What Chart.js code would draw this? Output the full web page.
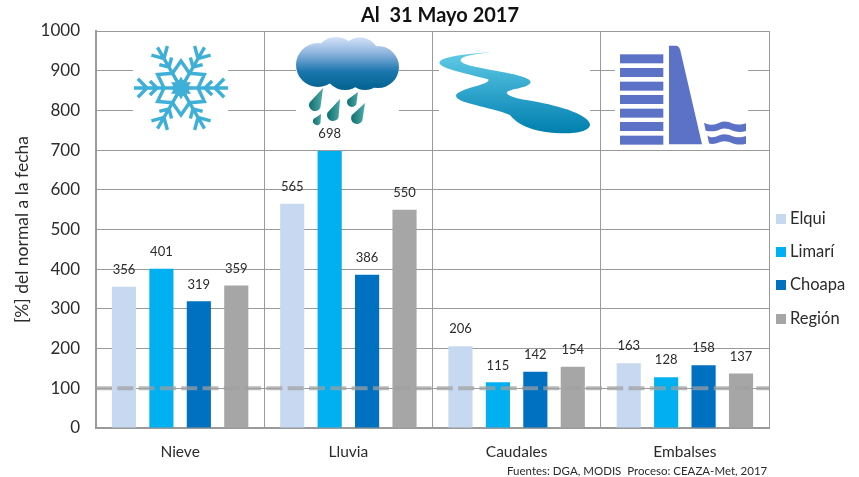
<!DOCTYPE html>
<html><head><meta charset="utf-8">
<style>html,body{margin:0;padding:0;background:#fff}canvas{display:block}</style>
<script src="https://cdn.jsdelivr.net/npm/chart.js@4"></script>
</head><body><canvas id="c" width="859" height="477"></canvas>
<script>
const categories = ['Nieve','Lluvia','Caudales','Embalses'];
const elqui  = [356,565,206,163];
const limari = [401,698,115,128];
const choapa = [319,386,142,158];
const region = [359,550,154,137];
const normalRef = 100;
const yTicks = [0,100,200,300,400,500,600,700,800,900,1000];
const FONT = 'Lato, Carlito, "Open Sans", sans-serif';
const TXT = '#2b2b2b';

function snowflake(ctx,cx,cy){
  const col='#3EAFD7';
  ctx.save();ctx.translate(cx,cy);ctx.strokeStyle=col;ctx.fillStyle=col;ctx.lineWidth=3.4;ctx.lineCap='butt';
  for(let i=0;i<6;i++){
    ctx.save();ctx.rotate(i*Math.PI/3);
    ctx.beginPath();ctx.moveTo(8,0);ctx.lineTo(47,0);
    [[34,13],[24,10]].forEach(([r,l])=>{
      const d=l*Math.SQRT1_2;
      ctx.moveTo(r,0);ctx.lineTo(r+d,-d);ctx.moveTo(r,0);ctx.lineTo(r+d,d);
    });
    ctx.stroke();ctx.restore();
  }
  ctx.lineWidth=3.4;ctx.beginPath();
  for(let i=0;i<12;i++){
    const r=i%2?17:27,a=(i*Math.PI/6)+Math.PI/6;
    ctx[i?'lineTo':'moveTo'](r*Math.cos(a),r*Math.sin(a));
  }
  ctx.closePath();ctx.stroke();
  ctx.beginPath();
  for(let i=0;i<24;i++){
    const r=i%2?8:11.5,a=i*Math.PI/12;
    ctx[i?'lineTo':'moveTo'](r*Math.cos(a),r*Math.sin(a));
  }
  ctx.closePath();ctx.fill();ctx.restore();
}
function cloud(ctx){
  const g=ctx.createLinearGradient(0,37,0,90);
  g.addColorStop(0,'#D3E3F8');g.addColorStop(.3,'#8FB4DE');g.addColorStop(.65,'#1B76AE');g.addColorStop(1,'#02628F');
  ctx.fillStyle=g;
  ctx.beginPath();
  [[318,65,22],[336,58,21],[360,57,19.5],[378,67,21],[345,69,21],[365,72,18]].forEach(([x,y,r])=>{ctx.moveTo(x+r,y);ctx.arc(x,y,r,0,Math.PI*2);});
  ctx.fill();
  [[323,88,315,105,6],[340,99,333,115,6],[358,92,352,102,5],[365,103,357,118,6],[321,114,317,121,4]].forEach(([tx,ty,bx,by,r])=>{
    const d=ctx.createLinearGradient(bx-r,0,bx+r,0);d.addColorStop(0,'#0F6E70');d.addColorStop(1,'#47A3A0');
    ctx.fillStyle=d;
    const a=Math.atan2(ty-by,tx-bx);
    ctx.beginPath();ctx.moveTo(tx,ty);ctx.lineTo(bx+r*Math.cos(a-1.57),by+r*Math.sin(a-1.57));
    ctx.arc(bx,by,r,a-1.57,a+1.57,true);ctx.closePath();ctx.fill();
  });
}
function river(ctx){
  const X=x=>430+x/3,Y=y=>20+y/3;
  const g=ctx.createLinearGradient(0,52,0,133);
  g.addColorStop(0,'#62CCE6');g.addColorStop(.5,'#2FA4CC');g.addColorStop(1,'#007FAE');
  ctx.fillStyle=g;ctx.beginPath();ctx.moveTo(X(185),Y(97));
  const c=[[120,100,30,110,28,128],[30,145,110,160,175,178],[185,195,80,205,78,228],[80,250,180,260,240,285],[270,325,340,340,400,340],[450,340,482,330,480,312],[470,280,380,255,290,240],[260,235,232,228,230,218],[235,205,300,205,302,185],[295,165,200,155,125,138],[100,132,85,125,95,115],[110,105,150,100,185,97]];
  c.forEach(p=>ctx.bezierCurveTo(X(p[0]),Y(p[1]),X(p[2]),Y(p[3]),X(p[4]),Y(p[5])));
  ctx.closePath();ctx.fill();
}
function dam(ctx){
  const X=x=>430+x/3,Y=y=>20+y/3;
  ctx.fillStyle='#5B72C6';
  [103,144,185,225,266,306,347].forEach(y=>ctx.fillRect(X(570),Y(y),130/3,27/3));
  ctx.beginPath();ctx.moveTo(X(717),Y(373));ctx.lineTo(X(717),Y(77));ctx.lineTo(X(738),Y(77));
  ctx.quadraticCurveTo(X(750),Y(78),X(753),Y(100));ctx.lineTo(X(816),Y(373));ctx.closePath();ctx.fill();
  [[822,308],[832,346]].forEach(([x,t])=>{
    const top=[[862,t+6,885,t-6],[905,t-4,925,t+4],[938,t+6,948,t+2]];
    ctx.beginPath();ctx.moveTo(X(x),Y(t));
    ctx.bezierCurveTo(X(842),Y(t+10),X(855),Y(t+6),X(868),Y(t));
    ctx.bezierCurveTo(X(880),Y(t-6),X(895),Y(t-4),X(905),Y(t+2));
    ctx.bezierCurveTo(X(920),Y(t+8),X(935),Y(t+6),X(948),Y(t+2));
    ctx.lineTo(X(948),Y(t+25));
    ctx.bezierCurveTo(X(935),Y(t+29),X(920),Y(t+29),X(905),Y(t+23));
    ctx.bezierCurveTo(X(895),Y(t+17),X(880),Y(t+15),X(868),Y(t+21));
    ctx.bezierCurveTo(X(855),Y(t+27),X(842),Y(t+27),X(x+5),Y(t+24));
    ctx.closePath();ctx.fill();
  });
}

const decor = {
  id:'decor',
  beforeDraw(chart){ chart.titleBlock.left=112; chart.titleBlock.right=768; },
  beforeDatasetsDraw(chart){
    const ctx=chart.ctx;ctx.save();ctx.fillStyle='#fff';
    [[133,95],[296,103],[439,151],[615,133]].forEach(([x,w])=>ctx.fillRect(x,40,w,85));
    snowflake(ctx,181,88);cloud(ctx);river(ctx);dam(ctx);
    ctx.restore();
  },
  afterDatasetsDraw(chart){
    const ctx=chart.ctx,a=chart.chartArea,yy=chart.scales.y.getPixelForValue(normalRef);
    ctx.save();
    ctx.strokeStyle='rgba(160,160,160,.72)';ctx.lineWidth=4;ctx.setLineDash([16,5.3]);
    ctx.beginPath();ctx.moveTo(a.left,yy);ctx.lineTo(a.right,yy);ctx.stroke();ctx.setLineDash([]);
    ctx.font='13px '+FONT;ctx.fillStyle=TXT;ctx.textAlign='center';ctx.textBaseline='middle';
    chart.data.datasets.forEach((ds,i)=>{
      chart.getDatasetMeta(i).data.forEach((el,j)=>ctx.fillText(ds.data[j],el.x,el.y-17));
    });
    const ys=[219,252,285,319];
    ctx.textAlign='left';ctx.font='16.5px '+FONT;
    chart.data.datasets.forEach((ds,k)=>{
      ctx.fillStyle=ds.backgroundColor;ctx.fillRect(776,ys[k]-5,10,10);
      ctx.fillStyle=TXT;ctx.fillText(ds.label,790,ys[k]);
    });
    ctx.font='11.5px '+FONT;ctx.fillStyle=TXT;
    ctx.fillText('Fuentes: DGA, MODIS  Proceso: CEAZA-Met, 2017',507,471);
    ctx.restore();
  }
};
const bar=(label,data,color)=>({label,data,backgroundColor:color,borderWidth:0,categoryPercentage:.89,barPercentage:.645});
new Chart(document.getElementById('c'),{
  type:'bar',
  data:{labels:categories,datasets:[
    bar('Elqui',elqui,'#C6D9F1'),
    bar('Limarí',limari,'#00B0F0'),
    bar('Choapa',choapa,'#0070C0'),
    bar('Región',region,'#A6A6A6')
  ]},
  options:{
    responsive:false,animation:false,
    layout:{padding:{left:0,top:0,right:90,bottom:0}},
    plugins:{
      legend:{display:false},tooltip:{enabled:false},
      title:{display:true,text:'Al  31 Mayo 2017',color:'#111',font:{family:FONT,size:20,weight:'bold',lineHeight:1.2},padding:{top:4,bottom:3},align:'center'}
    },
    scales:{
      x:{grid:{color:'#9a9a9a',lineWidth:1,drawTicks:false},border:{color:'#9a9a9a',width:2},
        ticks:{color:TXT,font:{family:FONT,size:15.5},padding:15,maxRotation:0},
        afterFit(s){s.height=49;}},
      y:{min:0,max:1000,grid:{color:'#9a9a9a',lineWidth:1,drawTicks:false},border:{color:'#9a9a9a',width:2},
        afterBuildTicks(s){s.ticks=yTicks.map(v=>({value:v}));},
        ticks:{color:TXT,font:{family:FONT,size:17},padding:16,callback:v=>String(v)},
        title:{display:true,text:'[%] del normal a la fecha',color:TXT,font:{family:FONT,size:17.5},padding:{top:12,bottom:0}},
        afterFit(s){s.width=96;}}
    }
  },
  plugins:[decor]
});
</script></body></html>
